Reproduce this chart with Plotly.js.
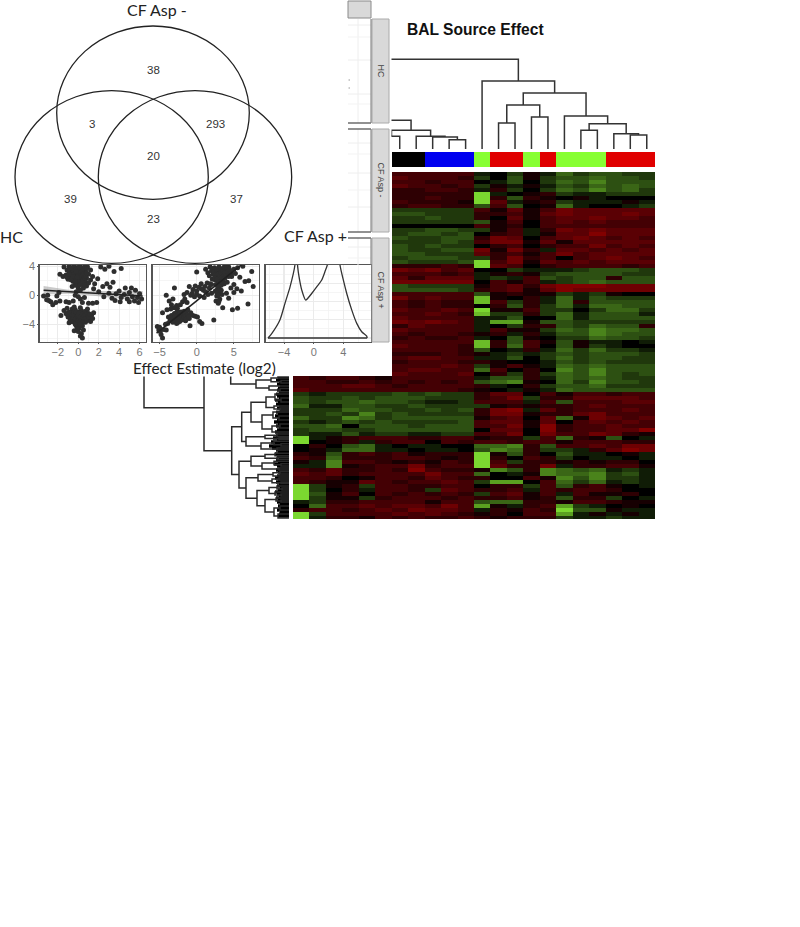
<!DOCTYPE html>
<html><head><meta charset="utf-8">
<script src="https://cdn.plot.ly/plotly-3.0.1.min.js"></script>
<style>html,body{margin:0;padding:0;background:#fff}</style></head>
<body><div id="chart" style="width:800px;height:927px"></div>
<script>
// Heat values: positive = green, negative = red. Columns 6..21 for rows covered on the left by the inset panel.
const heatRowsRight = [
[-3,-3,-3,-3,-3,1,0,2,-1,1,4,2,3,3,2,2],
[-4,-3,-3,-3,-2,2,0,3,-1,2,3,3,4,3,3,2],
[-3,-3,-2,-3,-3,0,1,3,0,2,4,3,5,3,3,3],
[-4,-3,-3,-2,-3,2,-1,1,-1,1,3,2,4,3,4,3],
[-2,-2,-3,-3,-2,1,-2,2,0,2,4,3,5,3,4,2],
[-2,-2,-2,-2,-2,8,1,0,-1,-2,2,1,1,2,2,2],
[-2,-2,-3,-2,-2,8,-2,3,-2,-1,0,-1,1,0,0,0],
[-3,-2,-2,-2,-1,8,-4,1,-1,-2,2,1,1,1,-1,1],
[-2,-3,-3,-2,-2,3,-3,3,0,-1,4,1,0,0,1,2],
[2,2,2,2,2,-3,-1,-4,-1,-3,-5,-4,-4,-4,-4,-4],
[3,3,2,2,2,-2,-2,-3,-1,-4,-5,-4,-4,-4,-5,-4],
[2,2,3,2,2,-2,0,-4,-1,-3,-4,-4,-5,-4,-4,-3],
[2,2,2,2,2,3,-1,-3,0,-3,-4,-3,-4,-3,-3,-3],
[0,0,0,0,0,-3,-1,-2,0,-3,-3,-3,-3,-3,-3,-3],
[2,2,3,3,2,2,-1,-3,1,-2,-5,-4,-5,-4,-4,-4],
[2,3,3,2,3,0,-2,-3,1,-1,-4,-4,-6,-4,-4,-4],
[3,2,2,3,3,-2,-5,-4,0,-3,-4,-5,-4,-3,-4,-3],
[2,2,2,3,2,-3,-5,-5,-1,-4,-1,-4,-4,-4,-4,-4],
[3,2,3,2,2,0,-2,-3,0,-2,-3,-3,-5,-3,-4,-3],
[3,2,2,3,3,-5,-1,-5,-2,1,-4,-4,-3,-4,-3,-4],
[3,3,2,2,2,-4,-2,-3,-1,-3,-5,-3,-4,-4,-4,-4],
[2,3,3,3,2,2,-2,-5,-2,-3,0,-3,-4,-5,-4,-3],
[3,2,2,2,3,8,-3,-5,-1,-4,-3,-4,-3,-4,-4,-4],
[-2,-2,-2,-3,-2,8,-4,-3,0,-2,-3,-3,-3,-3,-2,-3],
[-5,-4,-5,-3,-4,0,0,2,1,1,1,2,3,3,3,2],
[-3,-3,-3,-2,-3,1,-1,-2,-1,2,3,3,3,3,2,2],
[-4,-2,-4,-4,-4,1,2,1,-3,3,2,3,3,-2,3,3],
[-5,-5,-5,-5,-5,0,-3,-1,-3,1,2,3,4,3,3,3],
[3,2,2,2,2,-1,-3,-4,-2,-5,-6,-6,-6,-5,-5,-5],
[3,3,3,3,2,-2,-3,-4,-1,-4,-6,-5,-5,-5,-5,-5],
[-3,-3,-3,-3,-3,3,-1,-2,-1,-1,2,1,2,-1,0,0],
[-5,-3,-4,-3,-3,7,-1,0,-2,1,4,1,3,2,2,2],
[-3,-2,-3,-2,-2,7,-3,2,-2,1,4,-2,3,3,3,3],
[-3,-2,-3,-2,-2,0,-2,3,-2,2,4,1,4,4,3,3],
[-4,-3,-3,-4,-3,8,-1,-1,-3,2,2,0,2,4,4,2],
[-3,-3,-4,-3,-2,7,2,2,-2,2,4,1,3,3,3,1],
[-4,-3,-3,-3,-3,1,1,3,0,0,4,1,3,3,3,3],
[-5,-4,-5,-4,-3,1,6,6,-1,3,3,2,2,2,2,2],
[-2,-4,-3,-3,-3,1,0,2,-2,-2,3,2,4,3,3,-2],
[-4,-3,-3,-3,-3,1,-3,-1,-1,2,4,3,5,4,4,3],
[-3,-2,-3,-3,-2,-1,-2,1,-2,1,3,3,5,4,3,3],
[-2,-3,-2,-2,-3,1,0,3,-1,0,2,2,4,3,3,2],
[-3,-3,-3,-3,-3,7,-2,3,-3,-1,3,-1,1,1,0,1],
[-4,-3,-3,-3,-2,7,-2,4,-3,0,3,-1,2,1,0,0],
[-3,-3,-3,-3,-2,3,0,1,-2,1,4,2,4,2,2,1],
[-2,-2,-2,-3,-2,-1,1,2,1,2,3,2,3,3,3,2],
[-3,-4,-4,-3,-3,1,1,3,0,2,4,2,3,3,2,2],
[-2,-3,-3,-3,-2,-2,-1,0,0,1,3,2,3,2,2,2],
[-3,-3,-3,-4,-3,2,-1,-3,-1,1,4,3,4,3,3,3],
[-3,-4,-4,-3,-3,4,-3,0,-2,0,5,3,5,3,3,3],
[-4,-3,-3,-3,-4,0,-2,2,-2,2,4,3,5,3,2,3]
];
const heatRowsFull = [
[-3,-2,-3,-3,-2,-1,-3,-3,-3,-3,-3,1,3,3,-2,1,4,3,4,3,2,2],
[-3,-3,-2,-2,-3,-2,-3,-2,-3,-2,-3,3,4,5,-1,0,4,2,5,3,3,2],
[-3,-3,-3,-4,-4,-3,-2,-3,-3,-3,-3,-2,1,0,-2,2,3,3,4,2,2,2],
[-4,-3,-3,-3,-3,-3,-3,-3,-3,-3,-2,-1,0,1,-1,1,4,3,3,3,3,3],
[2,1,2,2,2,2,3,2,3,2,2,-2,-4,-4,0,-3,-1,-3,-3,-2,-3,-3],
[3,2,2,3,2,3,3,3,2,2,2,-2,-3,-5,2,-2,-2,-4,-4,-4,-4,-3],
[3,2,3,3,4,3,3,2,1,1,2,-3,-3,-3,1,-3,3,-3,-3,-3,-4,-4],
[4,1,1,3,3,2,2,3,2,2,2,2,-1,-2,-1,-2,-2,-3,-4,-3,-3,-3],
[2,2,2,4,3,3,2,2,3,2,3,-2,-5,-6,1,-4,-2,-3,-3,-3,-4,-3],
[2,2,3,2,5,2,3,2,2,2,2,-2,-5,-5,-1,-2,-2,-4,-5,-3,-3,-3],
[4,2,2,5,4,2,3,3,3,3,3,-1,-3,-4,0,-4,4,-1,-5,-4,-3,-4],
[2,1,2,3,2,3,2,2,2,2,3,-3,-4,-4,-1,-4,0,-3,-4,-3,-4,-3],
[3,3,4,0,3,3,3,2,3,3,3,-3,-3,-5,-1,-6,-2,-3,-3,-4,-3,-3],
[2,3,3,2,2,3,3,3,3,3,3,0,-4,-4,0,-6,-2,-3,-3,-4,-4,-6],
[2,1,1,3,1,2,2,1,1,2,2,-3,-3,-5,0,-5,-3,-3,-5,-4,-2,-1],
[8,1,-1,-2,-3,-3,-3,-2,-2,-3,-3,-1,-2,-2,2,-3,4,-2,-1,3,0,1],
[8,0,-1,-2,1,-2,-3,-3,0,-3,-2,-3,-3,-2,-3,-3,-1,-3,-3,-3,-2,-2],
[0,-2,0,3,4,1,0,1,1,0,0,4,4,5,-2,3,-3,-3,-4,-3,-5,-5],
[0,-1,1,4,4,1,1,0,1,1,0,3,5,4,-2,2,2,1,-2,-4,-6,-5],
[-2,-1,3,-2,-3,-2,-3,-1,-2,-2,-2,8,-1,3,-2,0,3,1,1,0,-1,1],
[-3,-2,4,-2,-2,-2,-3,-3,-2,-1,-2,8,-2,0,-3,-2,2,0,1,1,0,1],
[-1,1,5,-3,-3,-2,-1,-2,-1,-3,-2,8,-3,2,-2,-2,-1,-2,-1,-2,-2,0],
[1,1,5,-1,-2,-3,-3,-5,-2,-3,-3,8,-4,-2,-2,-5,1,-2,-2,-3,-3,-1],
[-3,-2,-4,-2,-2,-3,-2,-6,-3,-2,-2,-1,5,3,-2,5,4,3,4,1,2,1],
[-4,-3,-4,-2,-3,-3,-3,-3,-5,-3,-3,4,0,1,-1,5,4,4,5,2,3,1],
[-3,-3,-2,0,-1,-3,-3,-2,-4,-3,-2,-2,0,0,-3,-1,5,3,5,2,2,1],
[-3,-2,-1,-1,-4,-3,-2,-3,-3,-4,-3,2,6,6,0,-3,4,2,4,1,2,1],
[8,2,-1,-2,2,-3,-3,-2,-2,-3,-3,0,-2,-2,2,-3,3,-2,-3,-1,0,1],
[8,2,0,-2,1,-3,-3,-2,2,-4,-3,-2,-2,-3,1,-3,-2,-3,-3,-2,0,0],
[8,3,-1,-3,0,-3,-2,-3,-2,-3,-2,2,-3,-4,-1,-3,1,-3,-1,-1,-2,0],
[8,2,-1,-1,2,-2,-3,-3,-3,-2,-3,-2,-2,-3,-1,-2,3,-2,-2,2,0,1],
[1,2,-2,-2,-3,-3,-3,-3,-1,-3,-3,3,4,4,-2,-2,-1,-3,-3,-2,-1,-1],
[0,4,-3,-3,-4,-3,-4,-4,-3,-5,-3,6,-1,1,-2,-3,6,2,1,0,-1,0],
[-2,-3,-3,-2,-3,-4,-3,-5,-4,-4,-3,1,-2,-1,-3,-2,8,3,3,-1,1,1],
[8,2,-3,-3,-3,-3,-4,-3,-4,-3,-2,-1,-2,0,-3,-3,6,1,-1,1,-1,1],
[8,1,-2,-2,-1,-3,-2,-3,-2,-2,-3,-2,-1,-2,-2,-2,2,1,1,2,1,1]
];
// Sample class of columns 6..21: 0 black, 1 blue, 2 green, 3 red
const sampleClass = [0,0,1,1,1,2,3,3,2,3,2,2,2,3,3,3];

// Dendrograms: [height, left, right]; a bare number is a leaf (column or row).
const columnTree = [89.7,
  [28.7,[20,[10,0,1],[12,2,[9,3,4]]],[18.7,[12.7,5,6],[12.7,7,[12,8,[9.3,9,10]]]]],
  [68,11,[56,[44,[26,12,13],[32,14,15]],[33,16,[25.3,[18.7,17,18],[15.3,19,[14,20,21]]]]]]];
const rowBranchA = [33,[18,51,[8,51.6,52.2]],[20,53,[9,53.6,54.4]]];
const rowBranchU1 = [38,[23,[14,55,[8,56,57]],[15,58,[9,58.5,59]]],[27,[16,59.5,[10,60.5,61.5]],[17,[9,62.5,63.5],64.5]]];
const rowBranchU2 = [43,[24,[12,65,65.6],[10,65.9,66.3]],[28,[15,66.8,[8,67.4,68]],[12,68.5,69]]];
const rowBranchV1 = [38,[24,[14,69.8,70.4],[12,70.8,71.3]],[27,[15,71.8,[8,72.4,73]],[10,73.5,74]]];
const rowBranchV2 = [43,[31,[16,[9,74.4,75],75.5],[17,[10,76,76.5],[8,77,77.4]]],
  [32,[20,[12,78,[7,78.5,79]],[14,79.5,[8,80,80.5]]],[24,[13,81,[8,81.5,82]],[15,[9,83,84],[11,85,86]]]]];
const rowTree = [145,20,[85,[58.3,43,rowBranchA],[57.3,[47.3,rowBranchU1,rowBranchU2],[50,rowBranchV1,rowBranchV2]]]];
// Depth of the dense leaf mass, every half row from row 50.5
const leafDepth = [12,11,13,10,12,9,11,12,10,13,12,10,14,11,13,10,12,9,13,11,14,10,12,15,11,13,10,12,14,11,13,16,12,18,14,20,17,13,11,14,12,10,13,11,15,12,10,13,11,9,12,14,11,13,10,12,9,11,14,12,10,13,11,12,9,11,10,12,9,10,11];

// Effect estimates: panel 1 (HC vs CF Asp+), panel 2 (CF Asp- vs CF Asp+)
const hcX = [-1.4,-1.1,-0.9,-0.7,-0.6,-0.4,-0.3,-0.2,-0.1,0,0.1,0.2,0.3,0.4,0.5,0.6,0.7,0.8,0.9,1,1.2,1.4,-1.8,-1.5,-1.2,-1,-0.8,-0.6,-0.5,-0.4,-0.2,-0.1,0,0.1,0.3,0.4,0.5,0.7,0.8,1,-0.3,0,0.2,0.5,-0.6,-0.2,1.2,1.6,1.9,2.2,2.6,3,3.5,4.2,2.4,2.8,3.1,3.4,1.5,2,2.5,3,3.3,3.7,4,4.2,4.5,4.8,5,5.3,5.6,5.8,6,6.2,4.6,5.2,3.6,4.1,5,5.5,5.9,-3.4,-3,-2.9,-2.7,-2.5,-2.2,-3.1,-1.9,-2.1,-1.8,-1.2,-0.9,-0.5,-0.3,0,0.2,0.4,0.6,1,1.4,1.8,-1.7,-1.4,-1.2,-1.1,-1,-0.9,-0.8,-0.7,-0.6,-0.6,-0.5,-0.4,-0.3,-0.3,-0.2,-0.1,0,0,0.1,0.2,0.3,0.3,0.4,0.5,0.6,0.7,0.7,0.8,0.9,1,1.1,1.2,1.3,1.5,1.4,-0.9,-0.4,0.2,0.9,-0.2,0.1,0.4,-0.4,0,0.3,0.5,0.2,0.4,-0.1,
 -0.9,-0.8,-0.6,-0.5,-0.4,-0.3,-0.2,-0.1,0,0,0.1,0.2,0.2,0.3,0.4,0.4,0.5,0.6,0.6,0.7,0.8,0.8,-1.1,-0.9,-0.7,-0.5,-0.1,0,0.2,0.6,-0.3,-0.7,-0.2,0.1,
 -1.1,-0.9,-0.8,-0.7,-0.6,-0.5,-0.4,-0.4,-0.3,-0.2,-0.2,-0.1,0,0,0.1,0.1,0.2,0.3,0.4,0.5,0.5,0.6,0.7,0.8,0.9,1,1.1,-0.7,-0.3,0.2];
const hcY = [3.9,3.5,4,3.2,3.7,4,3.4,2.9,3.8,3.3,2.7,3.9,3.1,2.5,3.6,2.9,3.3,2.4,3.9,2.9,3.5,2.6,2.9,2.6,2.8,2.2,2.6,2.4,1.9,2.7,2.2,1.6,2.4,1.9,2.1,1.5,2.3,1.9,1.3,1.7,1.4,1,0.7,1,1.2,0.5,2.1,1.6,2.3,3.9,3.6,4,3.3,3.7,1.2,1.6,1.1,1.8,0.9,0.5,-0.2,0.3,-0.4,0.2,0.6,-0.3,0.1,-0.5,0.4,-0.2,0.7,-0.3,0.2,-0.5,1,1,-0.7,-0.9,-0.9,-0.8,-1,-0.1,0,-0.7,-0.9,-1.3,-1,-0.6,0.4,-0.1,-0.8,-0.9,-1,-0.8,0,-0.2,-0.5,-1,-0.3,-1.1,-1.1,-1,-2.8,-2.1,-2.5,-1.8,-3,-2.3,-3.4,-2.7,-1.9,-3.6,-2.4,-3.1,-3.7,-2,-2.7,-3.3,-2.3,-3.9,-2.9,-3.5,-2.1,-3.1,-3.8,-2.6,-3.3,-2.2,-3.7,-2.9,-3.4,-2.5,-3.1,-3.6,-2.7,-2.4,-3.2,-3.8,-1.6,-1.7,-1.9,-4.2,-4.5,-4.2,-4.9,-5,-5.3,-4.8,-5.6,-5.9,-4.6,
 3.2,3.6,3,3.4,2.9,2.5,3.6,3,2.8,3.8,3.4,2.4,3.1,2.7,3.4,2.1,2.9,3.9,2.4,2.7,3.1,3.7,2.5,2.9,2.1,2.6,2.5,1.9,1.5,1.5,1.9,3.8,3.3,3.9,
 -2.6,-2.9,-2.4,-3.1,-2.7,-3.3,-2.3,-2.8,-3.3,-3.7,-2.3,-2.9,-3.5,-2.7,-2.4,-3.7,-3,-3.5,-2.6,-3.1,-3.6,-2.8,-3.2,-3.5,-2.7,-3,-2.6,-3.6,-4,-4];
const aspMinusX = [1.2,1.5,1.8,2,2.2,2.4,2.6,2.8,3,3.1,3.3,3.5,3.6,3.8,4,4.1,4.3,4.5,4.7,5,5.2,1.7,2.1,2.5,2.9,3.2,3.5,2.6,3,2.8,3.3,2.5,3,2.7,3.1,2.6,3.4,2.9,3.7,4.1,5.5,6.2,7.4,5.8,6.5,5,5.4,6,4.6,5,7,7.6,4,4.3,6.9,5.5,4.8,3.5,2.3,-3,0,-4.1,-1,-0.5,-0.2,0,0.3,0.6,0.9,1.1,1.4,1.7,2,-1.3,-1.7,-0.8,-0.3,0.4,1,1.5,2,-1.9,-1.3,-3.8,-3.6,-3.4,-3.2,-3.1,-3,-2.9,-2.8,-2.7,-2.6,-2.5,-2.4,-2.3,-2.2,-2.1,-2,-1.9,-1.8,-1.7,-1.6,-1.5,-1.4,-1.3,-1.2,-1.1,-1,-0.8,-0.5,-0.2,0.1,0.4,0.7,-0.9,-3.7,-3.4,-3.2,-3,-2.7,-3.5,-4,-4.6,-5.3,-5.1,-4.9,-4.8,-4.6,-4.4,-4.2,-3.9,-5,-4.1,
 2.1,2.3,2.5,2.7,2.9,3,3.2,3.3,3.4,3.5,3.6,3.7,3.8,3.9,4,4.2,4.3,4.4,4.6,2.4,2.7,3,3.3,3.6,2.8,3.1,2.7,3.3,2.9,3,
 -3.3,-3,-2.8,-2.7,-2.5,-2.5,-2.4,-2.3,-2.2,-2.1,-2,-1.9,-1.8,-1.7,-1.6,-1.5,-1.4,-1.2,-1.1,-3.5,-2.9,
 -0.6,0,0.6,1.2,1.8,-1.6,-2.2,-2.6];
const aspMinusY = [3.6,3.1,3.9,3.4,2.9,3.8,3.2,2.6,3.9,3.3,2.7,3.7,3,2.4,3.5,2.9,3.9,3.2,2.6,3.6,3,2.7,2.2,2.1,1.9,2.2,2,1.5,1.3,0.9,1.4,0.6,0.3,-0.1,-0.5,-0.8,0.1,-1.1,1.6,1.8,3.8,4,3.3,2.5,1.9,1.5,0.9,0.6,1,0.4,2,1.2,0.3,-0.4,-1.2,-1.8,-2,-1.7,-3.4,1,3.2,0,1.2,0.8,1.3,0.6,1.1,1.6,0.7,1.2,1.7,1,1.5,0.4,0.1,0,-0.2,-0.1,-0.3,0.1,0.3,-0.9,-1,-3,-3.5,-2.8,-3.7,-3.1,-2.5,-3.5,-3,-3.9,-2.2,-3.3,-2.7,-3.6,-3,-2.3,-3.4,-2.7,-3.2,-2.2,-2.9,-3.5,-2.5,-3,-2,-2.7,-3.2,-2.4,-2.8,-2.9,-3,-3.6,-3.9,-4.2,-0.8,-1.3,-0.5,-1.7,-1.4,-1.9,-2,-2.4,-4.3,-4.8,-5,-5.4,-5.9,-4.7,-4,-3.9,-4.4,-4.8,
 3.7,3.2,2.8,3.6,2.9,2.4,3.6,3.1,2.5,3.4,2.7,3.9,3.1,2.7,3.9,3.3,2.6,3.6,3,2.4,2.2,1.8,1.8,2.2,1.4,0.8,0.4,0.7,0,-0.8,
 -3.2,-3.4,-2.6,-3.2,-2.7,-3.7,-3.1,-2.4,-3.4,-2.8,-3,-3.3,-2.6,-3,-2.5,-2.9,-3.3,-2.7,-3,-3.1,-2.9,
 0.3,0.1,0.9,0.5,1.6,-0.5,-1.3,-1.8];
const fit1X = [-3.4,6.3], fit1Y = [0.7,-0.1];
const band1X = [-3.4,-1,1.5,4,6.3,6.3,4,1.5,-1,-3.4];
const band1Y = [1.3,0.75,0.6,0.6,0.6,-0.8,-0.45,-0.05,0.2,0.1];
const fit2X = [-5.4,6], fit2Y = [-5.2,4.2];
// Density outline and its baseline
const densX = [-6.16,-5.66,-4.54,-3.87,-3.19,-2.53,-2.4,-2.16,-1.98,-1.62,-1.08,-0.27,0.4,1.08,1.52,1.83,2.1,3.4,3.54,3.99,4.45,5.12,5.8,6.47,7.14,7.2];
const densY = [0,0.012,0.05,0.095,0.14,0.2,0.26,0.195,0.168,0.132,0.104,0.122,0.14,0.159,0.182,0.2,0.26,0.26,0.2,0.159,0.122,0.077,0.04,0.017,0.005,0];
const densBaseX = [-6.16,7.2], densBaseY = [0,0];

const vennCounts = ['38','3','293','20','39','37','23'];
const stripLabels = ['HC','CF Asp -','CF Asp +'];
const setLabels = ['CF Asp -','HC','CF Asp +'];

const px = x => x/800, py = y => 1-y/927;
const dx = (a,b) => [px(a),px(b)], dy = (top,bot) => [py(bot),py(top)];

// Flatten a [height,left,right] tree into elbow segments
function treeLines(node, outH, outP){
  if(typeof node === 'number') return {pos:node, h:0};
  const l = treeLines(node[1],outH,outP), r = treeLines(node[2],outH,outP), h = node[0];
  outP.push(l.pos,l.pos,r.pos,r.pos,null); outH.push(l.h,h,h,r.h,null);
  return {pos:(l.pos+r.pos)/2, h:h};
}
const colP=[],colH=[]; treeLines(columnTree,colH,colP);
const rowP=[],rowH=[]; treeLines(rowTree,rowH,rowP);

const heatZ = heatRowsRight.map(r=>[null,null,null,null,null,null].concat(r)).concat(heatRowsFull);
const classZ = [[null,null,null,null,null,null].concat(sampleClass)];
const ink = '#2e2e2e';

const traces = [
 {type:'heatmap', z:heatZ, xaxis:'x', yaxis:'y', zmin:-9, zmax:9, showscale:false, hoverinfo:'skip',
  colorscale:[[0,'#b00000'],[0.167,'#820000'],[0.278,'#5a0004'],[0.389,'#2e0003'],[0.5,'#000000'],[0.611,'#20380c'],[0.667,'#2d5012'],[0.722,'#3a6616'],[0.833,'#5aa020'],[1,'#8cf238']]},
 {type:'heatmap', z:classZ, xaxis:'x2', yaxis:'y2', zmin:0, zmax:3, showscale:false, hoverinfo:'skip',
  colorscale:[[0,'#000000'],[0.33,'#000000'],[0.33,'#0000f0'],[0.5,'#0000f0'],[0.5,'#88ff33'],[0.83,'#88ff33'],[0.83,'#e00000'],[1,'#e00000']]},
 {type:'scatter', mode:'lines', x:colP, y:colH, xaxis:'x3', yaxis:'y3', hoverinfo:'skip', line:{color:'#333',width:1.5}},
 {type:'scatter', mode:'lines', x:rowH, y:rowP, xaxis:'x4', yaxis:'y4', hoverinfo:'skip', line:{color:'#2a2a2a',width:1.5}},
 {type:'bar', orientation:'h', x:leafDepth, y0:50.5, dy:0.5, width:0.85, xaxis:'x4', yaxis:'y4', hoverinfo:'skip', marker:{color:'#000',line:{width:0}}},
 {type:'scatter', mode:'lines', x:band1X, y:band1Y, xaxis:'x5', yaxis:'y5', fill:'toself', fillcolor:'rgba(150,150,150,0.5)', line:{width:0}, hoverinfo:'skip'},
 {type:'scatter', mode:'markers', x:hcX, y:hcY, xaxis:'x5', yaxis:'y5', hoverinfo:'skip', marker:{color:ink,size:5}},
 {type:'scatter', mode:'lines', x:fit1X, y:fit1Y, xaxis:'x5', yaxis:'y5', hoverinfo:'skip', line:{color:'#222',width:1.6}},
 {type:'scatter', mode:'markers', x:aspMinusX, y:aspMinusY, xaxis:'x6', yaxis:'y6', hoverinfo:'skip', marker:{color:ink,size:5}},
 {type:'scatter', mode:'lines', x:fit2X, y:fit2Y, xaxis:'x6', yaxis:'y6', hoverinfo:'skip', line:{color:'#222',width:1.6}},
 {type:'scatter', mode:'lines', x:densX, y:densY, xaxis:'x7', yaxis:'y7', hoverinfo:'skip', line:{color:'#333',width:1.3,shape:'spline',smoothing:0.6}},
 {type:'scatter', mode:'lines', x:densBaseX, y:densBaseY, xaxis:'x7', yaxis:'y7', hoverinfo:'skip', line:{color:'#333',width:1.3}}
];

const hidden = {visible:false, fixedrange:true};
const panelX = (a,b,range,dtick,anchor)=>({domain:dx(a,b), range:range, dtick:dtick, tick0:0, anchor:anchor, zeroline:false,
  showgrid:true, gridcolor:'#ebebeb', gridwidth:1.2, minor:{dtick:dtick/2, tick0:0, showgrid:true, gridcolor:'#f3f3f3', gridwidth:0.8},
  showline:true, mirror:true, linecolor:'#555', linewidth:1.3, ticks:'outside', ticklen:1, tickcolor:'#555', ticklabelstandoff:-2,
  tickfont:{family:'Liberation Sans',size:11,color:'#777'}});
const panelY = (range,dtick,labels,anchor)=>({domain:dy(265,342), range:range, dtick:dtick, tick0:0, anchor:anchor, zeroline:false,
  showgrid:true, gridcolor:'#ebebeb', gridwidth:1.2, minor:{dtick:dtick/2, tick0:0, showgrid:true, gridcolor:'#f3f3f3', gridwidth:0.8},
  showline:true, mirror:true, linecolor:'#555', linewidth:1.3, ticks:labels?'outside':'', ticklen:1, tickcolor:'#555', showticklabels:labels,
  tickfont:{family:'Liberation Sans',size:11,color:'#777'}});

const rect = (x0,y0,x1,y1,fill,line)=>({type:'rect',xref:'paper',yref:'paper',x0:px(x0),x1:px(x1),y0:py(y0),y1:py(y1),fillcolor:fill,line:{color:line||fill,width:line?1:0},layer:'above'});
const seg = (x0,y0,x1,y1,c,w)=>({type:'line',xref:'paper',yref:'paper',x0:px(x0),x1:px(x1),y0:py(y0),y1:py(y1),line:{color:c,width:w},layer:'above'});
const ellipse = (x0,y0,x1,y1)=>({type:'circle',xref:'paper',yref:'paper',x0:px(x0),x1:px(x1),y0:py(y0),y1:py(y1),line:{color:'#222',width:1.3},layer:'above'});

const shapes = [
  rect(348,1,371,18,'#d9d9d9','#8a8a8a'),
  rect(372,19,389,123,'#d9d9d9','#aaaaaa'), rect(372,129,389,232,'#d9d9d9','#aaaaaa'), rect(372,238,389,342,'#d9d9d9','#aaaaaa'),
  seg(358,19,358,123,'#eeeeee',1), seg(358,129,358,232,'#eeeeee',1), seg(358,238,358,265,'#eeeeee',1),
  seg(348,25,371,25,'#eeeeee',1), seg(348,37,371,37,'#f3f3f3',1), seg(348,60,371,60,'#eeeeee',1), seg(348,94,371,94,'#eeeeee',1), seg(348,104,371,104,'#f3f3f3',1),
  seg(348,143,371,143,'#eeeeee',1), seg(348,154,371,154,'#f3f3f3',1), seg(348,173,371,173,'#eeeeee',1), seg(348,190,371,190,'#f3f3f3',1), seg(348,207,371,207,'#eeeeee',1),
  seg(348,247,371,247,'#eeeeee',1), seg(348,258,371,258,'#f3f3f3',1),
  seg(348,123,371,123,'#555',1.3), seg(348,129,371,129,'#555',1.3), seg(348,232,371,232,'#555',1.3), seg(348,238,371,238,'#555',1.3),
  seg(371,19,371,123,'#777',1), seg(371,129,371,232,'#777',1), seg(371,238,371,265,'#777',1),
  seg(348.5,80,350,80,'#999',1), seg(348.5,88,350,88,'#999',1),
  ellipse(56.7,26,249.3,199.3), ellipse(15,90.7,208.3,263.3), ellipse(98.3,90.7,291.7,263.3)
];

const note = (t,x,y,size,family,opt)=>Object.assign({text:t,xref:'paper',yref:'paper',x:px(x),y:py(y),xanchor:'center',yanchor:'middle',showarrow:false,font:{family:family,size:size,color:'#222'}},opt||{});
const vennPos = [[153,70],[92,124],[215,124],[153,156],[70,199],[236,199],[153,219]];
const stripFont = {family:'Liberation Sans',size:9,color:'#444'};
const annotations = vennCounts.map((c,i)=>note(c,vennPos[i][0],vennPos[i][1],11.5,'Liberation Sans',{font:{family:'Liberation Sans',size:11.5,color:'#333'}}))
 .concat([
  note(setLabels[0],157,9.5,16,'Lato'), note(setLabels[1],11.5,237,16,'Lato'), note(setLabels[2],315.5,235,16,'Lato'),
  note('Effect Estimate (log2)',204.5,368,15.3,'Lato'),
  note('BAL Source Effect',475,29,15.6,'Liberation Sans',{font:{family:'Liberation Sans',size:15.6,color:'#111'},text:'<b>BAL Source Effect</b>'}),
  note(stripLabels[0],380.5,71,9,'Liberation Sans',{textangle:90,font:stripFont}),
  note(stripLabels[1],380.5,180,9,'Liberation Sans',{textangle:90,font:stripFont}),
  note(stripLabels[2],380.5,290,9,'Liberation Sans',{textangle:90,font:stripFont})
 ]);

const layout = {
  width:800, height:927, margin:{l:0,r:0,t:0,b:0}, paper_bgcolor:'#fff', plot_bgcolor:'rgba(0,0,0,0)', showlegend:false, barmode:'overlay',
  xaxis:Object.assign({domain:dx(293,655),range:[-0.5,21.5],anchor:'y'},hidden),
  yaxis:Object.assign({domain:dy(172,519),range:[86.25,-0.5],anchor:'x'},hidden),
  xaxis2:Object.assign({domain:dx(293,655),range:[-0.5,21.5],anchor:'y2'},hidden),
  yaxis2:Object.assign({domain:dy(152,167),range:[0.5,-0.5],anchor:'x2'},hidden),
  xaxis3:Object.assign({domain:dx(391.5,655),range:[5.5,21.5],anchor:'y3'},hidden),
  yaxis3:Object.assign({domain:dy(52,149),range:[0,97],anchor:'x3'},hidden),
  xaxis4:Object.assign({domain:dx(119,289),range:[170,0],anchor:'y4'},hidden),
  yaxis4:Object.assign({domain:dy(376.5,519),range:[86.25,50.6],anchor:'x4'},hidden),
  xaxis5:panelX(39.5,145.7,[-3.8,6.6],2,'y5'), yaxis5:panelY([-6.44,4.18],4,true,'x5'),
  xaxis6:panelX(152.7,259,[-5.92,8.38],5,'y6'), yaxis6:panelY([-6.44,4.18],4,false,'x6'),
  xaxis7:panelX(265.7,371,[-6.47,7.72],4,'y7'), yaxis7:panelY([-0.011,0.2],0.05,false,'x7'),
  shapes:shapes, annotations:annotations
};
Plotly.newPlot('chart',traces,layout,{displayModeBar:false,staticPlot:true});
</script></body></html>
